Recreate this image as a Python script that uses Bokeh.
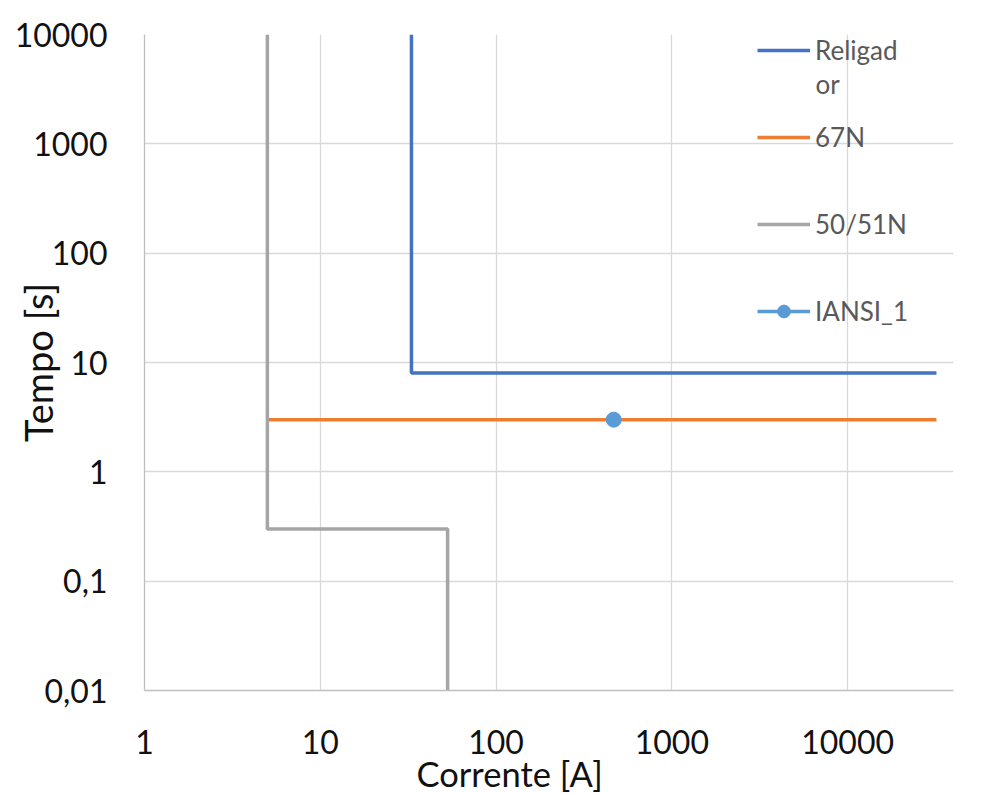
from bokeh.plotting import figure
from bokeh.models import (FixedTicker, CustomJSTickFormatter, Legend, LegendItem, Label, Title)
from bokeh.embed import file_html
from bokeh.resources import INLINE

# ---- data ----
religador_x = [33, 33, 32000]
religador_y = [10000, 8, 8]

n67_x = [5, 32000]
n67_y = [3, 3]

n5051_x = [5, 5, 53, 53]
n5051_y = [10000, 0.3, 0.3, 0.01]

iansi_x = [467]
iansi_y = [3]

x_ticks = [1, 10, 100, 1000, 10000]
y_ticks = [0.01, 0.1, 1, 10, 100, 1000, 10000]

series_names = ["Religad", "67N", "50/51N", "IANSI_1"]
colors = ["#4472C4", "#ED7D31", "#A5A5A5", "#5B9BD5"]

FONT = "Lato"

p = figure(width=1000, height=794, x_axis_type="log", y_axis_type="log",
           x_range=(1, 40000), y_range=(0.01, 10000),
           output_backend="svg", toolbar_location=None,
           min_border_left=144, min_border_top=34, min_border_right=47,
           min_border_bottom=104)
p.outline_line_color = None
p.background_fill_color = "white"
p.border_fill_color = "white"

fmt = CustomJSTickFormatter(code="return tick.toString().replace('.', ',');")
for ax, ticks in ((p.xaxis[0], x_ticks), (p.yaxis[0], y_ticks)):
    ax.ticker = FixedTicker(ticks=ticks, minor_ticks=[])
    ax.formatter = fmt
    ax.major_tick_line_color = None
    ax.minor_tick_line_color = None
    ax.axis_line_color = "#BFBFBF"
    ax.axis_line_width = 1.3
    ax.major_label_text_font = FONT
    ax.major_label_text_font_size = "32px"
    ax.major_label_text_color = "#111111"
p.yaxis[0].major_label_standoff = 31
p.xaxis[0].major_label_standoff = 33

# y axis title (sits beside the tick labels, as in the reference)
p.yaxis[0].axis_label = "Tempo [s]"
p.yaxis[0].axis_label_standoff = -49
p.yaxis[0].axis_label_text_font = FONT
p.yaxis[0].axis_label_text_font_size = "38px"
p.yaxis[0].axis_label_text_font_style = "normal"
p.yaxis[0].axis_label_text_color = "#111111"

# x axis title, shifted left of the frame centre as in the reference
p.add_layout(Title(text="Corrente [A]", align="left", offset=272, standoff=-11,
                   text_font=FONT, text_font_size="34.5px", text_font_style="normal",
                   text_color="#111111"), "below")

p.xgrid.ticker = FixedTicker(ticks=x_ticks, minor_ticks=[])
p.ygrid.ticker = FixedTicker(ticks=y_ticks, minor_ticks=[])
for g in (p.xgrid, p.ygrid):
    g.grid_line_color = "#D9D9D9"
    g.grid_line_width = 1.3

lw = 3.5
r1 = p.line(religador_x, religador_y, line_color=colors[0], line_width=lw)
r2 = p.line(n67_x, n67_y, line_color=colors[1], line_width=lw)
r3 = p.line(n5051_x, n5051_y, line_color=colors[2], line_width=lw)
r4l = p.line(iansi_x, iansi_y, line_color=colors[3], line_width=lw)
r4 = p.scatter(iansi_x, iansi_y, size=15, fill_color=colors[3], line_color=colors[3])

legend = Legend(items=[
    LegendItem(label=series_names[0], renderers=[r1]),
    LegendItem(label=series_names[1], renderers=[r2]),
    LegendItem(label=series_names[2], renderers=[r3]),
    LegendItem(label=series_names[3], renderers=[r4l, r4]),
], location=(613, 363), orientation="vertical",
    glyph_width=53, glyph_height=32, label_height=32, spacing=55,
    label_standoff=5, padding=0, margin=0,
    border_line_color=None, background_fill_alpha=0,
    label_text_font=FONT, label_text_font_size="26px", label_text_color="#595959")
p.add_layout(legend, "center")

# wrapped remainder of the first legend label
p.add_layout(Label(x=671, y=607, x_units="screen", y_units="screen", text="or",
                   text_font=FONT, text_font_size="26px", text_color="#595959",
                   text_align="left", text_baseline="middle"))

open("out.html", "w").write(file_html(p, INLINE))
